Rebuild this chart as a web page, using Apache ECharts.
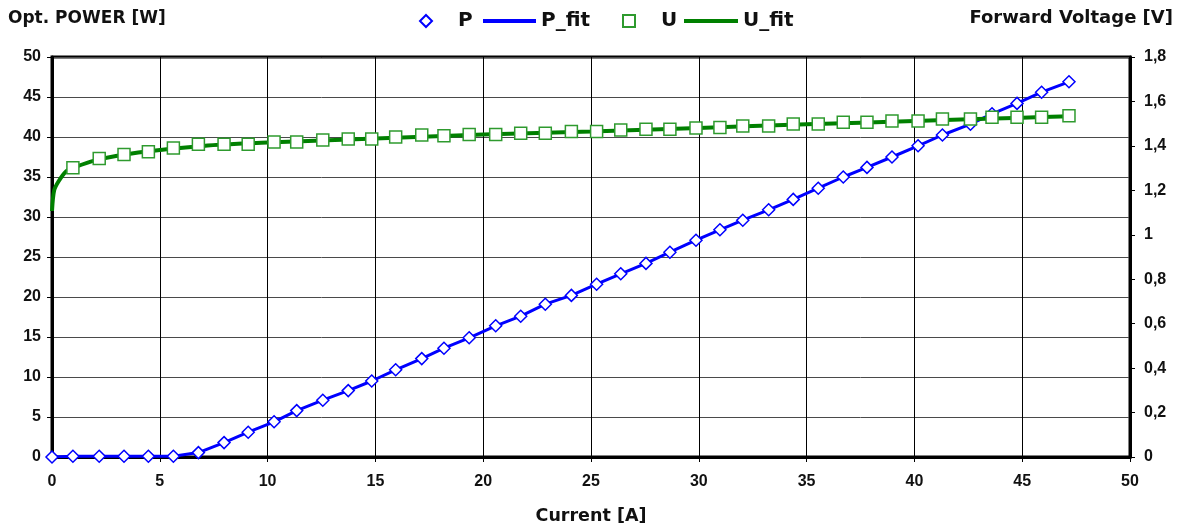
<!DOCTYPE html>
<html>
<head>
<meta charset="utf-8">
<script src="https://cdn.jsdelivr.net/npm/echarts@6/dist/echarts.min.js"></script>
<style>
html,body{margin:0;padding:0;background:#fff;}
#chart{width:1183px;height:531px;}
</style>
</head>
<body>
<div id="chart"></div>
<script>
// Current [A] at measured points (P series includes the 0 point)
const currentP = [0, 0.97, 2.19, 3.34, 4.47, 5.63, 6.79, 7.98, 9.1, 10.3, 11.35, 12.56, 13.74, 14.83, 15.94, 17.15, 18.18, 19.35, 20.58, 21.74, 22.88, 24.09, 25.26, 26.38, 27.55, 28.66, 29.87, 30.98, 32.04, 33.24, 34.38, 35.54, 36.7, 37.8, 38.96, 40.17, 41.3, 42.6, 43.6, 44.76, 45.9, 47.17];
const powerP = [0, 0.1, 0.1, 0.1, 0.1, 0.1, 0.55, 1.8, 3.1, 4.4, 5.8, 7.1, 8.3, 9.5, 10.9, 12.3, 13.6, 14.9, 16.4, 17.6, 19.1, 20.2, 21.6, 22.9, 24.2, 25.6, 27.1, 28.4, 29.6, 30.9, 32.2, 33.6, 35.0, 36.2, 37.5, 38.9, 40.25, 41.6, 42.9, 44.2, 45.6, 46.9];

const currentU = [0.97, 2.19, 3.34, 4.47, 5.63, 6.79, 7.98, 9.1, 10.3, 11.35, 12.56, 13.74, 14.83, 15.94, 17.15, 18.18, 19.35, 20.58, 21.74, 22.88, 24.09, 25.26, 26.38, 27.55, 28.66, 29.87, 30.98, 32.04, 33.24, 34.38, 35.54, 36.7, 37.8, 38.96, 40.17, 41.3, 42.6, 43.6, 44.76, 45.9, 47.17];
const voltageU = [1.302, 1.343, 1.361, 1.374, 1.39, 1.407, 1.407, 1.407, 1.418, 1.418, 1.426, 1.431, 1.431, 1.44, 1.449, 1.446, 1.451, 1.451, 1.457, 1.457, 1.465, 1.465, 1.472, 1.475, 1.475, 1.48, 1.483, 1.49, 1.49, 1.498, 1.498, 1.506, 1.506, 1.512, 1.512, 1.521, 1.521, 1.529, 1.529, 1.529, 1.536];

// U_fit curve
const fitCurrentU = [0, 0.1, 0.3, 0.65, 1, 2, 4, 7, 10, 15, 20, 25, 30, 35, 40, 45, 47.2];
const fitVoltageU = [1.107, 1.2, 1.24, 1.285, 1.302, 1.335, 1.37, 1.4, 1.415, 1.433, 1.451, 1.465, 1.481, 1.497, 1.512, 1.527, 1.533];

const xTicks = {min: 0, max: 50, interval: 5};
const yLeftTicks = {min: 0, max: 50, interval: 5};
const yRightTicks = {min: 0, max: 1.8, interval: 0.2};

const FONT = "'Liberation Sans', Arial, sans-serif";
const WIDE = "'DejaVu Sans', Verdana, sans-serif";
const BLUE = '#0000ff';
const GREEN = '#008000';
const GREEN_MK = '#2e9a2e';

function zip(a, b) { return a.map((v, i) => [v, b[i]]); }

const chart = echarts.init(document.getElementById('chart'));
const labelStyle = {fontFamily: FONT, fontSize: 16, fontWeight: 'bold', color: '#111'};
const legendText = {fontFamily: WIDE, fontSize: 20, fontWeight: 'bold', color: '#111'};

chart.setOption({
  animation: false,
  backgroundColor: '#fff',
  title: [
    {text: 'Opt. POWER [W]', left: 8, top: 10, padding: 0, textStyle: {fontFamily: WIDE, fontSize: 17, fontWeight: 'bold', color: '#111'}},
    {text: 'Forward Voltage [V]', right: 10, top: 9, padding: 0, textStyle: {fontFamily: WIDE, fontSize: 18, fontWeight: 'bold', color: '#111'}}
  ],
  legend: [
    {data: ['P'], left: 419, top: 11, padding: 0, icon: 'diamond', itemWidth: 12, itemHeight: 12,
     textStyle: Object.assign({padding: [0, 0, 0, 21]}, legendText)},
    {data: ['P_fit'], left: 483, top: 11, padding: 0, icon: 'rect', itemWidth: 53, itemHeight: 4,
     textStyle: legendText},
    {data: ['U'], left: 622, top: 11, padding: 0, icon: 'rect', itemWidth: 12, itemHeight: 12,
     textStyle: Object.assign({padding: [0, 0, 0, 21]}, legendText)},
    {data: ['U_fit'], left: 684, top: 11, padding: 0, icon: 'rect', itemWidth: 54, itemHeight: 4,
     textStyle: legendText}
  ],
  grid: {left: 52, right: 53, top: 57, bottom: 74, show: true, borderColor: '#000', borderWidth: 3, backgroundColor: 'transparent'},
  xAxis: {
    type: 'value', min: xTicks.min, max: xTicks.max, interval: xTicks.interval,
    name: 'Current [A]', nameLocation: 'middle', nameGap: 50,
    nameTextStyle: {fontFamily: WIDE, fontSize: 17.5, fontWeight: 'bold', color: '#111'},
    axisLine: {show: true, lineStyle: {color: '#000', width: 3}},
    axisTick: {show: true, length: 5, lineStyle: {color: '#000', width: 1}},
    axisLabel: Object.assign({margin: 17}, labelStyle),
    splitLine: {show: true, lineStyle: {color: '#000', width: 1}}
  },
  yAxis: [
    {
      type: 'value', min: yLeftTicks.min, max: yLeftTicks.max, interval: yLeftTicks.interval,
      axisLine: {show: true, lineStyle: {color: '#000', width: 3}},
      axisTick: {show: true, length: 5, lineStyle: {color: '#000', width: 1}},
      axisLabel: Object.assign({margin: 11}, labelStyle),
      splitLine: {show: true, lineStyle: {color: '#4a4a4a', width: 1}}
    },
    {
      type: 'value', position: 'right', min: yRightTicks.min, max: yRightTicks.max, interval: yRightTicks.interval,
      axisLine: {show: true, lineStyle: {color: '#000', width: 3}},
      axisTick: {show: true, length: 5, lineStyle: {color: '#000', width: 1}},
      axisLabel: Object.assign({margin: 14, formatter: v => String(Math.round(v * 10) / 10).replace('.', ',')}, labelStyle),
      splitLine: {show: false}
    }
  ],
  series: [
    {name: 'P_fit', type: 'line', yAxisIndex: 0, data: zip(currentP, powerP), symbol: 'none',
     lineStyle: {color: BLUE, width: 3}, itemStyle: {color: BLUE}, z: 2},
    {name: 'P', type: 'scatter', yAxisIndex: 0, data: zip(currentP, powerP), symbol: 'diamond', symbolSize: 12,
     itemStyle: {color: '#fff', borderColor: BLUE, borderWidth: 1.5, opacity: 1}, z: 3},
    {name: 'U_fit', type: 'line', yAxisIndex: 1, data: zip(fitCurrentU, fitVoltageU), symbol: 'none', smooth: 0.3,
     lineStyle: {color: GREEN, width: 4}, itemStyle: {color: GREEN}, z: 4},
    {name: 'U', type: 'scatter', yAxisIndex: 1, data: zip(currentU, voltageU), symbol: 'rect', symbolSize: 12,
     itemStyle: {color: '#fff', borderColor: GREEN_MK, borderWidth: 1.5, opacity: 1}, z: 5}
  ]
});
</script>
</body>
</html>
